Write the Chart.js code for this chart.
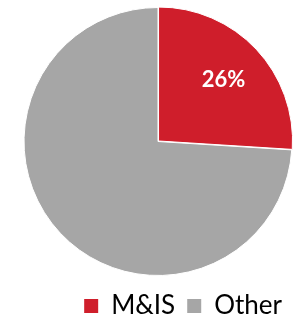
<!DOCTYPE html>
<html>
<head>
<meta charset="utf-8">
<script src="https://cdn.jsdelivr.net/npm/chart.js@4/dist/chart.umd.min.js"></script>
<style>
  html, body { margin: 0; padding: 0; background: #fff; }
  #wrap { width: 301px; height: 319px; }
</style>
</head>
<body>
<div id="wrap"><canvas id="pie"></canvas></div>
<script>
const labels = ['M&IS', 'Other'];
const shares = [26, 74];
const colors = ['#CF1E2B', '#A6A6A6'];
const offsets = [3, 0];

// prints the percentage inside the red slice
const sliceLabel = {
  id: 'sliceLabel',
  afterDatasetsDraw(chart) {
    const arc = chart.getDatasetMeta(0).data[0];
    const { x, y, startAngle, endAngle, outerRadius } = arc.getProps(['x', 'y', 'startAngle', 'endAngle', 'outerRadius'], true);
    const mid = (startAngle + endAngle) / 2;
    const r = outerRadius * 0.67;
    const ctx = chart.ctx;
    ctx.save();
    ctx.fillStyle = '#fff';
    ctx.font = 'bold 22px Lato';
    ctx.textAlign = 'center';
    ctx.textBaseline = 'middle';
    ctx.fillText(shares[0] + '%', x + Math.cos(mid) * r, y + Math.sin(mid) * r);
    ctx.restore();
  }
};

const defaultLabels = Chart.controllers.pie.overrides.plugins.legend.labels.generateLabels;

new Chart(document.getElementById('pie'), {
  type: 'pie',
  data: {
    labels: labels,
    datasets: [{
      data: shares,
      backgroundColor: colors,
      borderColor: '#fff',
      borderWidth: 1,
      offset: offsets,
      radius: 134,
      clip: false
    }]
  },
  options: {
    responsive: true,
    maintainAspectRatio: false,
    animation: false,
    // bottom padding is negative on purpose: legend adds 10px under itself
    layout: { padding: { top: 2, left: 22, right: 7, bottom: -10 } },
    plugins: {
      tooltip: { enabled: false },
      legend: {
        position: 'bottom',
        align: 'end',
        labels: {
          color: '#000',
          font: { family: 'Lato', size: 26 },
          boxWidth: 14,
          boxHeight: 14,
          padding: 12,
          // no white outline on the legend squares
          generateLabels: (chart) => defaultLabels(chart).map(l => ({ ...l, lineWidth: 0 }))
        }
      }
    }
  },
  plugins: [sliceLabel]
});
</script>
</body>
</html>
